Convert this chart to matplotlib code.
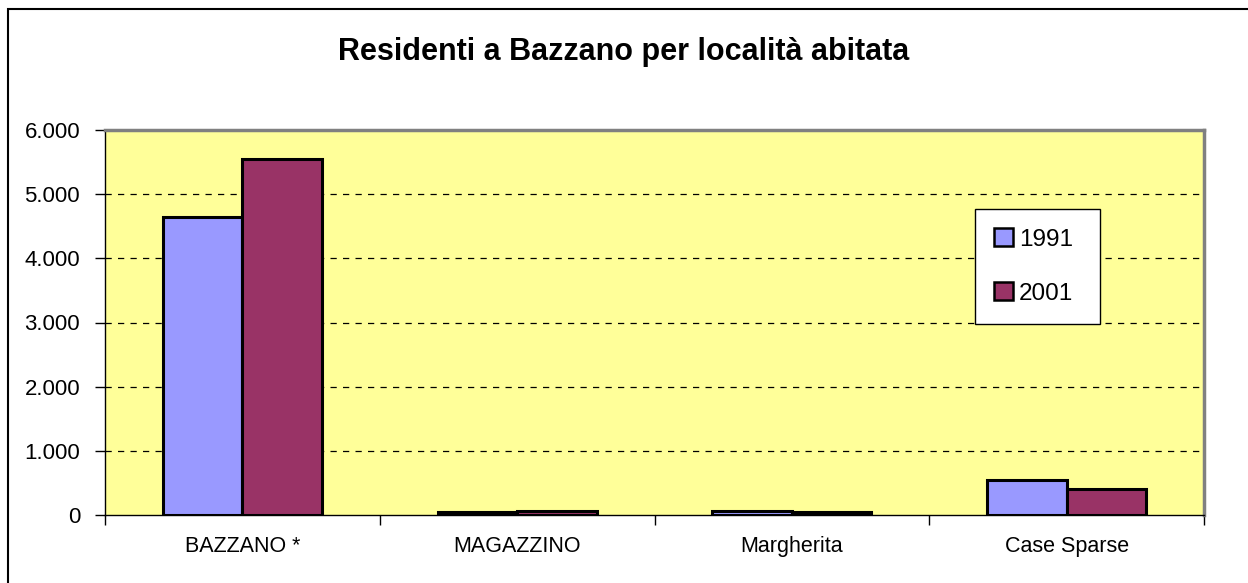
import matplotlib
matplotlib.use("Agg")
import matplotlib.pyplot as plt
from matplotlib.patches import Rectangle
import numpy as np

plt.rcParams['font.family'] = ['Liberation Sans', 'DejaVu Sans']

# dati: residenti per località
localita = ["BAZZANO *", "MAGAZZINO", "Margherita", "Case Sparse"]
anni = ["1991", "2001"]
res_1991 = [4640, 40, 65, 540]
res_2001 = [5550, 70, 40, 410]
y_ticks = [0, 1000, 2000, 3000, 4000, 5000, 6000]
y_tick_labels = ["0", "1.000", "2.000", "3.000", "4.000", "5.000", "6.000"]
titolo = "Residenti a Bazzano per località abitata"

colori = ["#9999FF", "#993366"]

fig = plt.figure(figsize=(12.48, 5.83), dpi=100)
ax = fig.add_axes([105 / 1248, 1 - 515 / 583, 1099 / 1248, 385 / 583])
ax.set_facecolor("#FFFF99")

x = np.arange(len(localita))
w = 0.289
for k, (vals, lab) in enumerate(zip([res_1991, res_2001], anni)):
    ax.bar(x + (k - 0.5) * w, vals, width=w, color=colori[k], edgecolor="black",
           linewidth=2.2, label=lab, zorder=3)

ax.set_xlim(-0.5, len(localita) - 0.5)
ax.set_ylim(0, 6000)

# griglia tratteggiata
for t in y_ticks[1:-1]:
    ax.axhline(t, color="black", linewidth=0.9, linestyle=(0, (5, 5)), zorder=1)

ax.set_yticks(y_ticks)
ax.set_yticklabels(y_tick_labels, fontsize=16)
ax.tick_params(axis="y", direction="out", length=7, width=1, pad=11)

ax.set_xticks(x)
ax.set_xticklabels(localita, fontsize=15.5)
ax.set_xticks(np.arange(-0.5, len(localita)), minor=True)
ax.tick_params(axis="x", which="major", length=0, pad=15)
ax.tick_params(axis="x", which="minor", direction="out", length=7, width=1)

for s in ["top", "right"]:
    ax.spines[s].set_color("#808080")
    ax.spines[s].set_linewidth(2.5)
for s in ["left", "bottom"]:
    ax.spines[s].set_color("black")
    ax.spines[s].set_linewidth(1)

leg = ax.legend(loc="center", bbox_to_anchor=(0.7916, 0.506, 0.1138, 0.278),
                mode="expand", fontsize=17.5, frameon=True, fancybox=False,
                framealpha=1, handlelength=0.75, handleheight=0.75,
                handletextpad=0.25, labelspacing=1.3, borderpad=0.8,
                borderaxespad=0)
leg.get_frame().set_edgecolor("black")
leg.get_frame().set_linewidth(1)
for h in leg.legend_handles:
    h.set_linewidth(1.8)

fig.text(0.5, 1 - 52 / 583, titolo, ha="center", va="center",
         fontsize=22, fontweight="bold")

# cornice esterna
fig.patches.append(Rectangle((8 / 1248, -0.2), 1.5, 1.2 - 9 / 583,
                             transform=fig.transFigure, fill=False,
                             edgecolor="black", linewidth=1.5))

fig.savefig("out.png", dpi=100)
